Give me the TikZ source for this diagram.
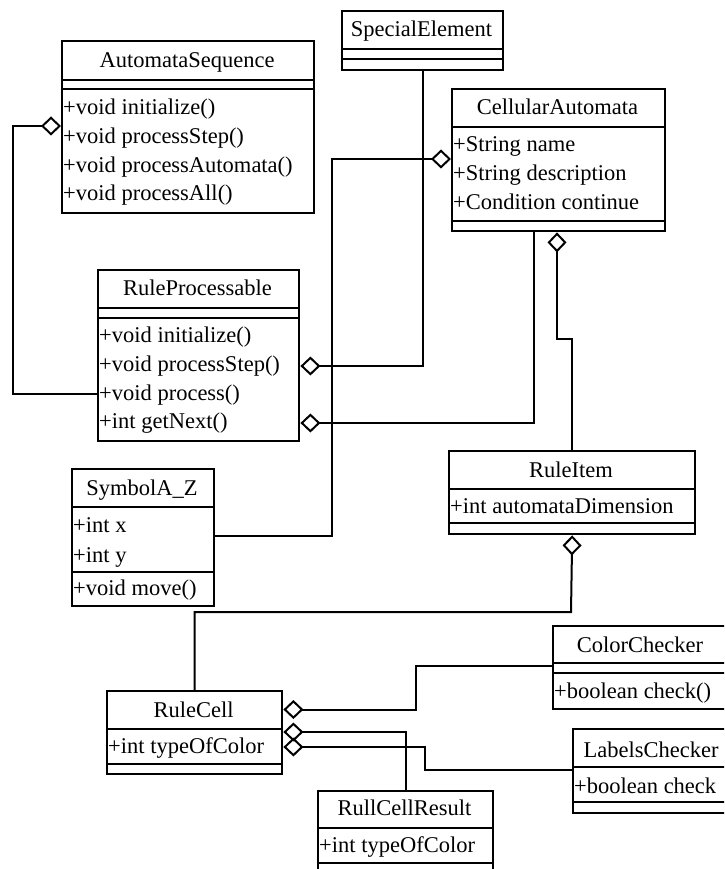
\documentclass[tikz,border=0pt]{standalone}
\usepackage{fontspec}
\setmainfont{Liberation Serif}
\newfontfamily\umlserif{Liberation Serif}
\usetikzlibrary{arrows.meta}
\newcommand{\umlfont}{\umlserif\fontsize{22.5}{28}\selectfont}
\tikzset{
  cls/.style={draw, line width=2.4pt, rectangle, inner sep=0pt, anchor=north west},
  ttl/.style={anchor=base, inner sep=0pt, font=\umlfont},
  mem/.style={anchor=base west, inner sep=0pt, font=\umlfont},
  divline/.style={line width=2.4pt},
  agg/.style={line width=2pt, -{Diamond[open, length=20pt, width=19pt, line width=2pt]}},
}
\begin{document}
\begin{tikzpicture}[x=1pt,y=-1pt]
\useasboundingbox (0,0) rectangle (724,869);
\clip (0,0) rectangle (724,869);

% AutomataSequence
\node[cls, minimum width=252pt, minimum height=172pt] (as) at (61,40) {};
\draw[divline] (61,80) -- (313,80);
\draw[divline] (61,89) -- (313,89);
\node[ttl] (ast) at (187,68) {AutomataSequence};
\node[mem] (as1) at (63,115) {+void initialize()};
\node[mem] (as2) at (63,143.5) {+void processStep()};
\node[mem] (as3) at (63,172) {+void processAutomata()};
\node[mem] (as4) at (63,200.5) {+void processAll()};

% SpecialElement
\node[cls, minimum width=161pt, minimum height=59pt] (se) at (341,10) {};
\draw[divline] (341,49) -- (502,49);
\draw[divline] (341,59) -- (502,59);
\node[ttl] (set) at (421.5,37) {SpecialElement};

% CellularAutomata
\node[cls, minimum width=213pt, minimum height=142pt] (ca) at (451,88) {};
\draw[divline] (451,127) -- (664,127);
\draw[divline] (451,221) -- (664,221);
\node[ttl] (cat) at (557.5,115) {CellularAutomata};
\node[mem] (ca1) at (453,152) {+String name};
\node[mem] (ca2) at (453,180.5) {+String description};
\node[mem] (ca3) at (453,209) {+Condition continue};

% RuleProcessable
\node[cls, minimum width=201pt, minimum height=171pt] (rp) at (97,269) {};
\draw[divline] (97,308) -- (298,308);
\draw[divline] (97,318) -- (298,318);
\node[ttl] (rpt) at (197.5,295) {RuleProcessable};
\node[mem] (rp1) at (99,342) {+void initialize()};
\node[mem] (rp2) at (99,371) {+void processStep()};
\node[mem] (rp3) at (99,400) {+void process()};
\node[mem] (rp4) at (99,428) {+int getNext()};

% SymbolA_Z
\node[cls, minimum width=142pt, minimum height=137pt] (sym) at (71,468) {};
\draw[divline] (71,507) -- (213,507);
\draw[divline] (71,572) -- (213,572);
\node[ttl] (symt) at (142,495) {SymbolA\_Z};
\node[mem] (sym1) at (73,532) {+int x};
\node[mem] (sym2) at (73,562) {+int y};
\node[mem] (sym3) at (73,595) {+void move()};

% RuleItem
\node[cls, minimum width=246pt, minimum height=83pt] (ri) at (448,450) {};
\draw[divline] (448,489) -- (694,489);
\draw[divline] (448,523) -- (694,523);
\node[ttl] (rit) at (571,477) {RuleItem};
\node[mem] (ri1) at (450,513) {+int automataDimension};

% RuleCell
\node[cls, minimum width=175pt, minimum height=83pt] (rc) at (106,690) {};
\draw[divline] (106,729) -- (281,729);
\draw[divline] (106,764) -- (281,764);
\node[ttl] (rct) at (193.5,717) {RuleCell};
\node[mem] (rc1) at (108,753) {+int typeOfColor};

% ColorChecker
\node[cls, minimum width=176pt, minimum height=83pt] (cc) at (552,625) {};
\draw[divline] (552,663) -- (728,663);
\draw[divline] (552,673) -- (728,673);
\node[ttl] (cct) at (640,652) {ColorChecker};
\node[mem] (cc1) at (554,698) {+boolean check()};

% LabelsChecker
\node[cls, minimum width=158pt, minimum height=84pt] (lc) at (572,728) {};
\draw[divline] (572,767) -- (730,767);
\draw[divline] (572,802) -- (730,802);
\node[ttl] (lct) at (651,757) {LabelsChecker};
\node[mem] (lc1) at (574,793) {+boolean check};

% RullCellResult
\node[cls, minimum width=175pt, minimum height=100pt] (rcr) at (317,790) {};
\draw[divline] (317,828) -- (492,828);
\draw[divline] (317,863) -- (492,863);
\node[ttl] (rcrt) at (404.5,815) {RullCellResult};
\node[mem] (rcr1) at (319,852) {+int typeOfColor};

% connectors
\draw[agg] (rp.west |- 0,394) -| (13,126) -- (as.west |- 0,126);
\draw[agg] (se.south) -- (se.south |- 0,366) -- (rp.east |- 0,366);
\draw[agg] (sym.east |- 0,536) -| (332,159) -- (ca.west |- 0,159);
\draw[agg] (ca.south -| 534,0) |- (rp.east |- 0,423);
\draw[agg] (ri.north) |- (557,339) -- (ca.south -| 557,0);
\draw[agg] (rc.north) |- (571,612) -- (ri.south);
\draw[agg] (cc.west |- 0,666) -| (416,709.5) -- (rc.east |- 0,709.5);
\draw[agg] (rcr.north) |- (rc.east |- 0,732);
\draw[agg] (lc.west |- 0,770) -| (425,747) -- (rc.east |- 0,747);
\end{tikzpicture}
\end{document}
